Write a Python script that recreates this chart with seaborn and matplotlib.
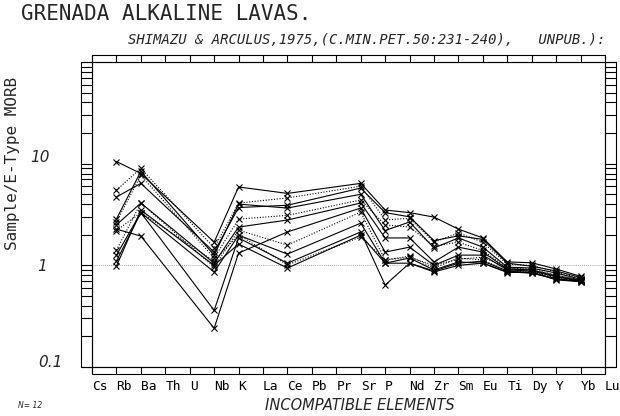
import numpy as np
import pandas as pd
import matplotlib
matplotlib.use("Agg")
import matplotlib.pyplot as plt
import matplotlib.transforms as mtransforms
import seaborn as sns
from matplotlib.patches import Rectangle
from matplotlib.ticker import LogLocator, NullFormatter

# Elementos del eje X (orden del spider diagram)
elements = ["Cs", "Rb", "Ba", "Th", "U", "Nb", "K", "La", "Ce", "Pb", "Pr",
            "Sr", "P", "Nd", "Zr", "Sm", "Eu", "Ti", "Dy", "Y", "Yb", "Lu"]
# Elementos analizados en las muestras
measured = ["Rb", "Ba", "Nb", "K", "Ce", "Sr", "P", "Nd", "Zr", "Sm", "Eu",
            "Ti", "Dy", "Y", "Yb"]

# Muestra / E-Type MORB
s01 = [10.5, 8.0, 1.69, 5.9, 5.1, 6.4, 3.5, 3.3, 2.98, 2.27, 1.86, 1.08, 1.06, 0.92, 0.78]
s02 = [5.5, 9.0, 1.48, 4.1, 4.6, 6.0, 2.8, 2.9, 1.69, 2.08, 1.69, 1.02, 1.00, 0.86, 0.74]
s03 = [4.7, 6.4, 1.35, 3.7, 3.9, 5.75, 3.3, 3.0, 1.75, 1.95, 1.80, 1.05, 0.98, 0.88, 0.76]
s04 = [2.85, 8.4, 1.26, 4.0, 3.66, 5.0, 2.2, 2.67, 1.48, 1.86, 1.51, 0.96, 0.94, 0.84, 0.73]
s05 = [2.67, 7.7, 1.18, 2.85, 3.1, 4.4, 2.5, 2.38, 1.55, 1.69, 1.40, 0.94, 0.92, 0.80, 0.72]
s06 = [2.5, 4.1, 1.05, 2.38, 2.79, 4.1, 1.86, 1.86, 1.08, 1.51, 1.35, 0.92, 0.90, 0.78, 0.71]
s07 = [2.27, 1.94, 0.24, 1.32, 2.13, 3.66, 1.35, 1.51, 1.00, 1.26, 1.26, 0.90, 0.88, 0.77, 0.70]
s08 = [1.41, 4.1, 0.96, 2.22, 1.58, 3.34, 1.13, 1.23, 0.94, 1.18, 1.13, 0.88, 0.86, 0.75, 0.70]
s09 = [1.26, 3.3, 0.86, 1.98, 1.29, 2.6, 1.05, 1.18, 0.90, 1.08, 1.05, 0.86, 0.84, 0.74, 0.69]
s10 = [1.10, 3.3, 0.36, 1.86, 1.05, 2.13, 0.64, 1.05, 0.86, 1.00, 1.05, 0.85, 0.86, 0.72, 0.69]
s11 = [0.98, 3.5, 1.00, 1.62, 0.94, 1.98, 1.05, 1.05, 0.88, 1.05, 1.10, 0.88, 0.84, 0.73, 0.70]
s12 = [2.2, 3.3, 1.10, 2.0, 1.01, 1.90, 1.13, 1.20, 1.00, 1.15, 1.20, 0.94, 0.90, 0.80, 0.72]

samples = [s01, s02, s03, s04, s05, s06, s07, s08, s09, s10, s11, s12]
line_kind = ["solid", "dot", "solid", "solid", "dot", "solid",
             "solid", "dot", "solid", "solid", "solid", "dot"]

y_ticks = [10, 1, 0.1]
y_tick_labels = ["10", "1", "0.1"]

rows = []
for i, (vals, kind) in enumerate(zip(samples, line_kind)):
    for el, v in zip(measured, vals):
        rows.append({"sample": f"S{i+1:02d}", "pos": elements.index(el),
                     "value": v, "line": kind})
df = pd.DataFrame(rows)

sns.set_style("white")
plt.rcParams["font.family"] = ["DejaVu Sans"]

W, H = 620, 416
fig = plt.figure(figsize=(W / 100, H / 100), dpi=100)
ax = fig.add_axes([92 / W, 1 - 367 / H, (605 - 92) / W, (367 - 62) / H])

sns.lineplot(data=df, x="pos", y="value", units="sample", estimator=None,
             style="line", dashes={"solid": "", "dot": (1, 1.5)},
             markers={"solid": "x", "dot": "x"}, color="k", lw=0.8,
             ms=5, mew=0.8, mec="k", legend=False, sort=False, ax=ax)

ax.axhline(1, color="0.55", lw=0.6, ls=(0, (1, 1.5)), zorder=0)

ax.set_yscale("log")
ax.set_ylim(0.1, 100)
ax.set_xlim(0, len(elements) - 1)
ax.set_xlabel("")
ax.set_ylabel("")

# Ticks tipo "regla" del plotter
ax.set_xticks(range(len(elements)))
ax.set_xticklabels(elements, ha="left", family="DejaVu Sans Mono", fontsize=9.3)
ax.tick_params(axis="x", which="both", direction="out", length=5.2, width=0.8,
               top=True, bottom=True, pad=4.5, colors="k")
ax.yaxis.set_major_locator(LogLocator(base=10, numticks=10))
ax.yaxis.set_minor_locator(LogLocator(base=10, subs=np.arange(2, 10), numticks=20))
ax.yaxis.set_minor_formatter(NullFormatter())
ax.tick_params(axis="y", which="both", direction="out", length=7.9, width=0.8,
               left=True, right=True, labelleft=False, colors="k")
for sp in ax.spines.values():
    sp.set_linewidth(0.8)
    sp.set_color("k")

# Bordes exteriores de las reglas
ax_w, ax_h = 605 - 92, 367 - 62
for (x0, y0, w, h) in [(0, 1, 1, 7.5 / ax_h), (0, -7 / ax_h, 1, 7 / ax_h),
                       (-11 / ax_w, 0, 11 / ax_w, 1), (1, 0, 11 / ax_w, 1)]:
    ax.add_patch(Rectangle((x0, y0), w, h, transform=ax.transAxes, fill=False,
                           lw=0.8, ec="k", clip_on=False))

# Etiquetas del eje Y (a mano, como en el original)
trans = mtransforms.blended_transform_factory(ax.transAxes, ax.transData)
for v, lab, xp, dy in zip(y_ticks, y_tick_labels, [40, 42, 50], [4.5, -1, 3]):
    t = trans + mtransforms.ScaledTranslation(0, dy / 72, fig.dpi_scale_trans)
    ax.text((xp - 92) / ax_w, v, lab, transform=t, ha="center", va="center",
            style="italic", fontsize=11)

fig.text(21 / W, 1 - 14 / H, "GRENADA ALKALINE LAVAS.", family="DejaVu Sans Mono",
         fontsize=15, va="center")
fig.text(128 / W, 1 - 40 / H,
         "SHIMAZU & ARCULUS,1975,(C.MIN.PET.50:231-240),   UNPUB.):",
         family="DejaVu Sans Mono", style="italic", fontsize=10, va="center")
fig.text(13 / W, 1 - 163 / H, "Sample/E-Type MORB", rotation=90,
         family="DejaVu Sans Mono", fontsize=11.5, ha="center", va="center")
fig.text(360 / W, 1 - 405 / H, "INCOMPATIBLE ELEMENTS", style="italic",
         fontsize=10.5, ha="center", va="center")
fig.text(18 / W, 1 - 406 / H, "N= 12", style="italic", fontsize=5.5, va="center")

fig.savefig("out.png", dpi=100)
plt.close(fig)
